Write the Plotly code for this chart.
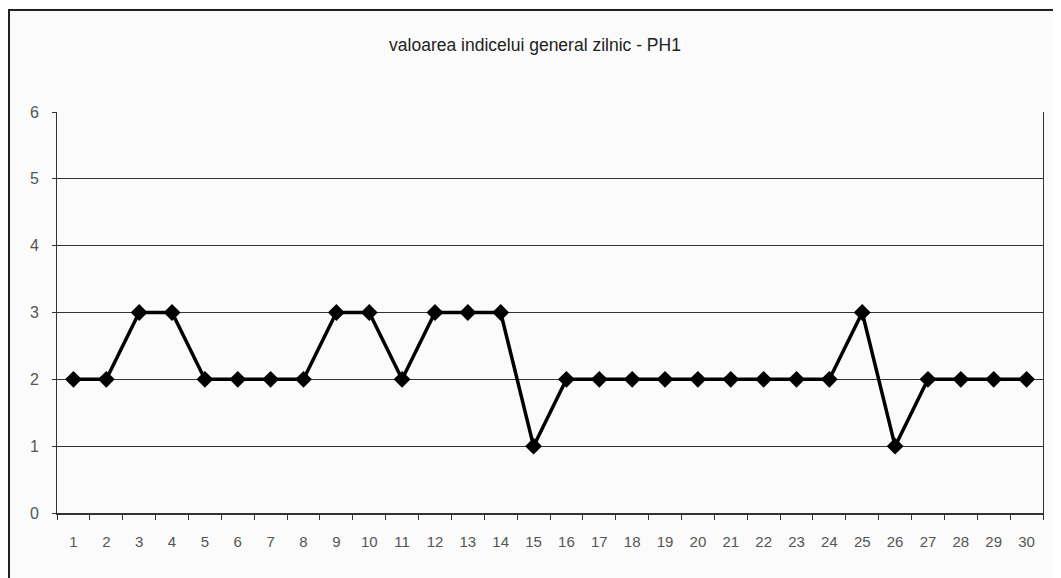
import plotly.graph_objects as go

days = [str(i) for i in range(1, 31)]
values = [2, 2, 3, 3, 2, 2, 2, 2, 3, 3, 2, 3, 3, 3, 1, 2, 2, 2, 2, 2, 2, 2, 2, 2, 3, 1, 2, 2, 2, 2]
title_text = "valoarea indicelui general zilnic - PH1"

# the page body adds an 8px offset; work in reference pixels and subtract it
OFF = 8
W, H = 1061 - OFF, 578 - OFF
L, R, T, B = 57 - OFF, 18, 112 - OFF, 578 - 513
pw, ph = W - L - R, H - T - B


def px_x(x):
    return (x - OFF - L) / pw


def px_y(y):
    return (H - B - (y - OFF)) / ph


fig = go.Figure()
fig.add_trace(go.Scatter(
    x=days, y=values, mode="lines+markers",
    line=dict(color="#000000", width=3.5),
    marker=dict(symbol="diamond", size=13, color="#000000"),
    showlegend=False,
))

fig.update_layout(
    width=W, height=H,
    margin=dict(l=L, r=R, t=T, b=B, autoexpand=False),
    paper_bgcolor="#fbfbfb", plot_bgcolor="#fbfbfb",
    font=dict(family="Liberation Sans, Arial, sans-serif", size=16, color="#444444"),
    title=dict(text=title_text, x=(535 - OFF) / W, xanchor="center",
               y=1 - (45 - OFF) / H, yanchor="middle",
               font=dict(size=17.5, color="#222222")),
    shapes=[
        dict(type="line", xref="paper", yref="paper",
             x0=px_x(8), x1=px_x(1075), y0=px_y(10), y1=px_y(10),
             line=dict(color="#222222", width=2)),
        dict(type="line", xref="paper", yref="paper",
             x0=px_x(9), x1=px_x(9), y0=px_y(9), y1=px_y(600),
             line=dict(color="#222222", width=2)),
    ],
)

fig.update_xaxes(
    type="category", tickson="boundaries", ticks="outside", ticklen=5,
    tickcolor="#333333", showline=True, linecolor="#333333", linewidth=1.5,
    showgrid=False, mirror=False, tickfont=dict(size=15, color="#555555"),
    ticklabelstandoff=14, range=[-0.5, 29.5],
)
fig.update_yaxes(
    range=[0, 6], dtick=1, ticks="outside", ticklen=4, tickcolor="#333333",
    showline=True, linecolor="#333333", linewidth=1, mirror=True,
    showgrid=True, gridcolor="#333333", gridwidth=1, zeroline=False,
    tickfont=dict(size=16, color="#555555"), ticklabelstandoff=10,
)

fig.write_html("out.html")
